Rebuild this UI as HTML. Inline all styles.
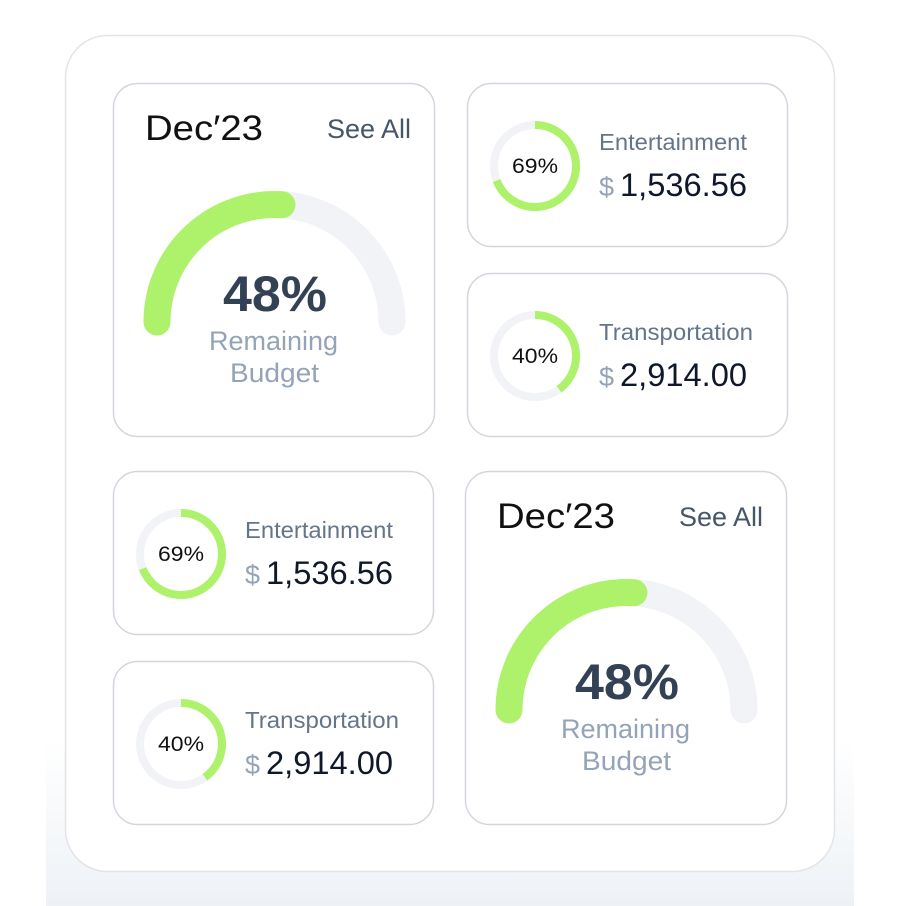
<!DOCTYPE html>
<html><head><meta charset="utf-8"><style>
html,body{margin:0;padding:0;background:#fff}
svg{display:block;font-family:"Liberation Sans",sans-serif}
</style></head><body>
<svg width="900" height="906" viewBox="0 0 900 906" xmlns="http://www.w3.org/2000/svg">
<defs>
<linearGradient id="bg" x1="0" y1="0" x2="0" y2="1">
<stop offset="0" stop-color="#fff"/><stop offset="1" stop-color="#eef2f6"/>
</linearGradient>
<g id="gauge">
<rect x="113.5" y="83.5" width="321" height="353" rx="24" fill="#fff" stroke="#d3d6de" stroke-width="1.5"/>
<text x="145" y="140" font-size="35" fill="#111" textLength="118" lengthAdjust="spacingAndGlyphs">Dec′23</text>
<text x="327" y="138" font-size="27" fill="#475569" textLength="84" lengthAdjust="spacingAndGlyphs">See All</text>
<path d="M157 322 A117.5 117.5 0 0 1 392 322" fill="none" stroke="#f1f3f7" stroke-width="27" stroke-linecap="round"/>
<path d="M157 322 A117.5 117.5 0 0 1 392 322" fill="none" stroke="#adf26a" stroke-width="27" stroke-linecap="round" stroke-dasharray="192 1000"/>
<text x="223" y="311" font-size="50" font-weight="bold" fill="#334155" textLength="104" lengthAdjust="spacingAndGlyphs">48%</text>
<text x="209" y="350" font-size="27" fill="#94a3b8" textLength="129" lengthAdjust="spacingAndGlyphs">Remaining</text>
<text x="230" y="382" font-size="27" fill="#94a3b8" textLength="89" lengthAdjust="spacingAndGlyphs">Budget</text>
</g>
<g id="ent">
<rect x="0.5" y="0.5" width="320" height="163" rx="24" fill="#fff" stroke="#d3d6de" stroke-width="1.5"/>
<circle cx="68" cy="83" r="41" fill="none" stroke="#f1f3f7" stroke-width="8"/>
<circle cx="68" cy="83" r="41" fill="none" stroke="#adf26a" stroke-width="8" stroke-dasharray="178 300" transform="rotate(-90 68 83)"/>
<text x="45" y="90" font-size="21" fill="#111" textLength="46" lengthAdjust="spacingAndGlyphs">69%</text>
<text x="132" y="67" font-size="23" fill="#64748b" textLength="148" lengthAdjust="spacingAndGlyphs">Entertainment</text>
<text x="132" y="113" font-size="27" fill="#94a3b8">$</text>
<text x="153" y="113" font-size="32" fill="#0f172a" textLength="127" lengthAdjust="spacingAndGlyphs">1,536.56</text>
</g>
<g id="tra">
<rect x="0.5" y="0.5" width="320" height="163" rx="24" fill="#fff" stroke="#d3d6de" stroke-width="1.5"/>
<circle cx="68" cy="83" r="41" fill="none" stroke="#f1f3f7" stroke-width="8"/>
<circle cx="68" cy="83" r="41" fill="none" stroke="#adf26a" stroke-width="8" stroke-dasharray="103 300" transform="rotate(-90 68 83)"/>
<text x="45" y="90" font-size="21" fill="#111" textLength="46" lengthAdjust="spacingAndGlyphs">40%</text>
<text x="132" y="67" font-size="23" fill="#64748b" textLength="154" lengthAdjust="spacingAndGlyphs">Transportation</text>
<text x="132" y="113" font-size="27" fill="#94a3b8">$</text>
<text x="153" y="113" font-size="32" fill="#0f172a" textLength="127" lengthAdjust="spacingAndGlyphs">2,914.00</text>
</g>
</defs>
<rect x="46" y="740" width="808" height="166" fill="url(#bg)"/>
<rect x="65.5" y="35.5" width="769" height="836" rx="42" fill="#fff" stroke="#e2e4e8" stroke-width="1.5"/>

<use href="#gauge"/>
<use href="#gauge" transform="translate(352,388)"/>
<use href="#ent" transform="translate(467,83)"/>
<use href="#tra" transform="translate(467,273)"/>
<use href="#ent" transform="translate(113,471)"/>
<use href="#tra" transform="translate(113,661)"/>
</svg>
</body></html>
